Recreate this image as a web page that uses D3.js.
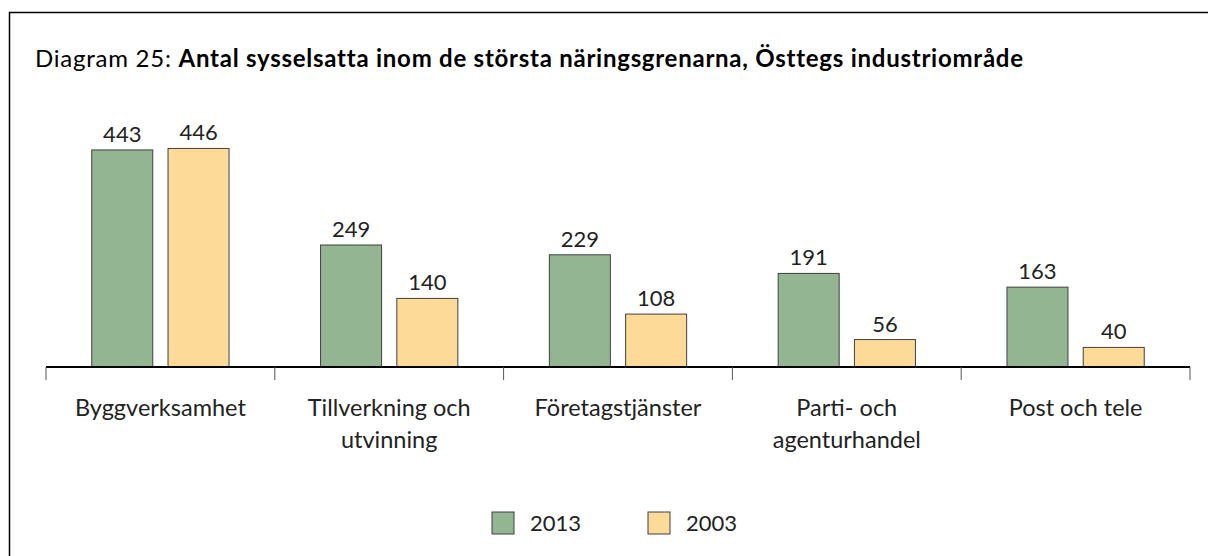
<!DOCTYPE html>
<html><head><meta charset="utf-8">
<script src="https://cdn.jsdelivr.net/npm/d3@7"></script>
<style>
body{margin:0;background:#fff;}
svg{display:block;font-family:Lato,"Open Sans",sans-serif;}
</style></head>
<body>
<svg id="c" width="1208" height="556"></svg>
<script>
const categories = [["Byggverksamhet"], ["Tillverkning och", "utvinning"], ["Företagstjänster"], ["Parti- och", "agenturhandel"], ["Post och tele"]];
const seriesNames = ["2013", "2003"];
const values2013 = [443, 249, 229, 191, 163];
const values2003 = [446, 140, 108, 56, 40];
const colors = ["#93b592", "#fdda98"];

const svg = d3.select("#c");
const W = 1208, H = 556;
svg.append("rect").attr("x", 9.5).attr("y", 12.5).attr("width", W + 20).attr("height", H + 20)
  .attr("fill", "#fff").attr("stroke", "#000").attr("stroke-width", 1.5);

const title = svg.append("text").attr("x", 35).attr("y", 67).attr("font-size", 24)
  .attr("letter-spacing", 0.75).attr("fill", "#000");
title.append("tspan").text("Diagram 25: ");
title.append("tspan").attr("font-weight", "bold").text("Antal sysselsatta inom de största näringsgrenarna, Östtegs industriområde");

const idx = categories.map((d, i) => i);
const x0 = d3.scaleBand().domain(idx).range([46, 1190]).paddingInner(0.4).paddingOuter(0.2);
const x1 = d3.scaleBand().domain(seriesNames).range([0, x0.bandwidth()]).paddingInner(0.2);
const y = d3.scaleLinear().domain([0, 500]).range([367, 122]);

const data = idx.map(i => ({ i, vals: [{ s: "2013", v: values2013[i] }, { s: "2003", v: values2003[i] }] }));

const g = svg.append("g");
const grp = g.selectAll("g.cat").data(data).join("g").attr("transform", d => `translate(${x0(d.i)},0)`);
grp.selectAll("rect").data(d => d.vals).join("rect")
  .attr("x", d => x1(d.s)).attr("width", x1.bandwidth())
  .attr("y", d => y(d.v)).attr("height", d => y(0) - y(d.v))
  .attr("fill", d => colors[seriesNames.indexOf(d.s)])
  .attr("stroke", "#404040").attr("stroke-width", 1);
grp.selectAll("text").data(d => d.vals).join("text")
  .attr("x", d => x1(d.s) + x1.bandwidth() / 2).attr("y", d => y(d.v) - 8)
  .attr("text-anchor", "middle").attr("font-size", 22).attr("fill", "#222").text(d => d.v);

// axis line and category boundary ticks
const r = x0.range();
svg.append("line").attr("x1", r[0]).attr("x2", r[1]).attr("y1", y(0)).attr("y2", y(0))
  .attr("stroke", "#000").attr("stroke-width", 2);
const bounds = d3.range(categories.length + 1).map(i => r[0] + i * x0.step());
svg.selectAll("line.tick").data(bounds).join("line").attr("class", "tick")
  .attr("x1", d => d).attr("x2", d => d).attr("y1", y(0)).attr("y2", y(0) + 13)
  .attr("stroke", "#555").attr("stroke-width", 1);

const labs = svg.selectAll("text.cat").data(idx).join("text").attr("class", "cat")
  .attr("text-anchor", "middle").attr("font-size", 23.5).attr("fill", "#222");
labs.each(function (i) {
  const t = d3.select(this);
  categories[i].forEach((line, k) => {
    t.append("tspan").attr("x", x0(i) + x0.bandwidth() / 2).attr("y", 416 + k * 32).text(line);
  });
});

// legend
const legX = [492, 648];
const lg = svg.selectAll("g.leg").data(seriesNames).join("g").attr("class", "leg")
  .attr("transform", (d, i) => `translate(${legX[i]},512)`);
lg.append("rect").attr("width", 22).attr("height", 22)
  .attr("fill", (d, i) => colors[i]).attr("stroke", "#404040").attr("stroke-width", 1);
lg.append("text").attr("x", 38).attr("y", 19).attr("font-size", 22).attr("fill", "#222").text(d => d);
</script>
</body></html>
